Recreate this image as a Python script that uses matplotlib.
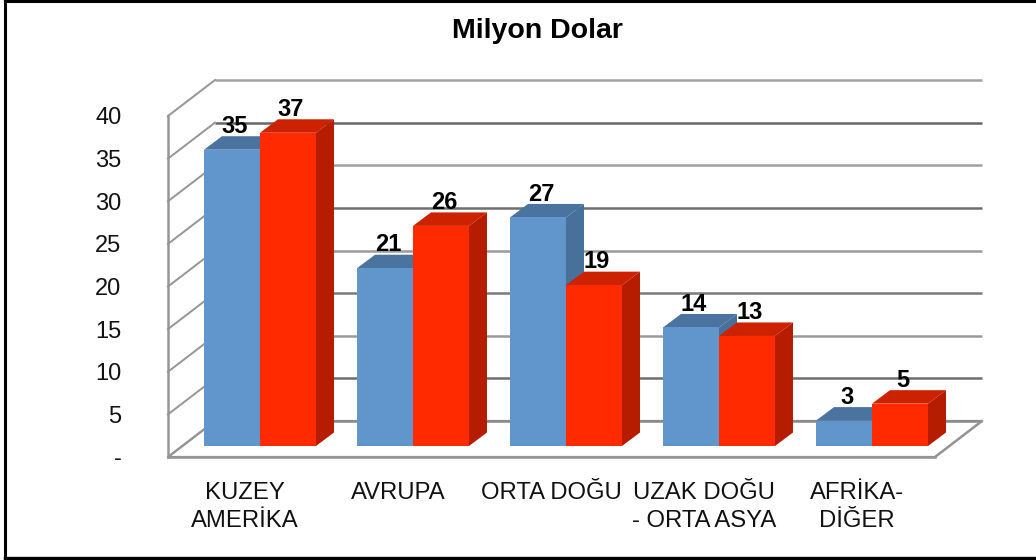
import matplotlib
matplotlib.use('Agg')
import matplotlib.pyplot as plt
import numpy as np
from matplotlib.patches import Polygon

plt.rcParams['font.family'] = ['Liberation Sans', 'DejaVu Sans']

categories = ['KUZEY\nAMERİKA', 'AVRUPA', 'ORTA DOĞU', 'UZAK DOĞU\n- ORTA ASYA', 'AFRİKA-\nDİĞER']
blue_values = [35, 21, 27, 14, 3]
red_values = [37, 26, 19, 13, 5]
y_ticks = [0, 5, 10, 15, 20, 25, 30, 35, 40]
y_labels = ['-', '5', '10', '15', '20', '25', '30', '35', '40']
# the picture's back wall lines alternate between light and dark
grid_colors = ['#8a8a8a', '#6e6e6e', '#9a9a9a', '#7a7a7a', '#9a9a9a', '#6e6e6e', '#a0a0a0', '#666666', '#a0a0a0']

W, H = 1036, 560
fig = plt.figure(figsize=(W / 100, H / 100), dpi=100)
left, right, top, bottom = 168, 935, 116, 457
ax = fig.add_axes([left / W, 1 - bottom / H, (right - left) / W, (bottom - top) / H])
ax.set_xlim(0, 5)
ax.set_ylim(0, 40)
for s in ax.spines.values():
    s.set_visible(False)
ax.patch.set_visible(False)

# pixel sizes to data units
px_x = 5 / (right - left)
px_y = 40 / (bottom - top)
depth_x, depth_y = 47 * px_x, 36 * px_y
bar_w = 56 * px_x
step = 153 * px_x
off_x, off_y = 36 * px_x, 11 * px_y
bar_dx, bar_dy = 18 * px_x, 13.5 * px_y
bar_scale = 0.993

def poly(points, color, z, edge='none', lw=0):
    ax.add_patch(Polygon(points, closed=True, facecolor=color, edgecolor=edge, linewidth=lw, zorder=z, clip_on=False))

wall = '#959595'
# floor
poly([(0, 0), (5, 0), (5 + depth_x, depth_y), (depth_x, depth_y)], 'white', 1, wall, 1.6)
# grid on the side and back wall
for t, c in zip(y_ticks, grid_colors):
    ax.plot([depth_x, 5 + depth_x], [t + depth_y, t + depth_y], color=c, lw=1.8, zorder=2, clip_on=False, solid_capstyle='butt')
    ax.plot([0, depth_x], [t, t + depth_y], color='#959595', lw=1.4, zorder=2, clip_on=False)
ax.plot([0, 0], [0, 40], color=wall, lw=1.8, zorder=3, clip_on=False)
ax.plot([0, 5], [0, 0], color=wall, lw=1.8, zorder=3, clip_on=False)
ax.plot([5, 5 + depth_x], [0, depth_y], color=wall, lw=1.6, zorder=3, clip_on=False)

def draw_bar(x0, value, front, roof, side, z):
    h = value * bar_scale
    ax.bar(x0, h, width=bar_w, bottom=off_y, align='edge', color=front, zorder=z + 0.2, clip_on=False)
    yt = off_y + h
    x1 = x0 + bar_w
    poly([(x0, yt), (x1, yt), (x1 + bar_dx, yt + bar_dy), (x0 + bar_dx, yt + bar_dy)], roof, z)
    poly([(x1, off_y), (x1, yt), (x1 + bar_dx, yt + bar_dy), (x1 + bar_dx, off_y + bar_dy)], side, z)
    ax.text(x0 + bar_w / 2 + 3 * px_x, yt + bar_dy - 0.2, str(value), ha='center', va='bottom',
            fontsize=17, fontweight='bold', color='black', zorder=20, clip_on=False)

for i in range(len(categories)):
    x0 = i * step + off_x
    draw_bar(x0, blue_values[i], '#6096cb', '#4a73a0', '#47709a', 5 + i * 2)
    draw_bar(x0 + bar_w, red_values[i], '#ff2a00', '#cc2200', '#b51c00', 6 + i * 2)

ax.set_xticks(np.arange(5) * step + 77 * px_x)
ax.set_xticklabels(categories, fontsize=17.2, linespacing=1.38, color='#111111')
ax.set_yticks(y_ticks)
ax.set_yticklabels(y_labels, fontsize=17, color='#111111')
ax.tick_params(axis='x', length=0, pad=18)
ax.tick_params(axis='y', length=0, pad=33.5)

fig.text(537 / W, 1 - 31 / H, 'Milyon Dolar', ha='center', va='center', fontsize=20.5, fontweight='bold')

# outer frame, open on the right side
fig.add_artist(plt.Line2D([5 / W, 5 / W], [0, 1], color='black', lw=2.2))
fig.add_artist(plt.Line2D([5 / W, 1], [1 - 1 / H, 1 - 1 / H], color='black', lw=2.2))
fig.add_artist(plt.Line2D([5 / W, 1], [1 - 558 / H, 1 - 558 / H], color='black', lw=2.4))

fig.savefig('out.png', dpi=100)
